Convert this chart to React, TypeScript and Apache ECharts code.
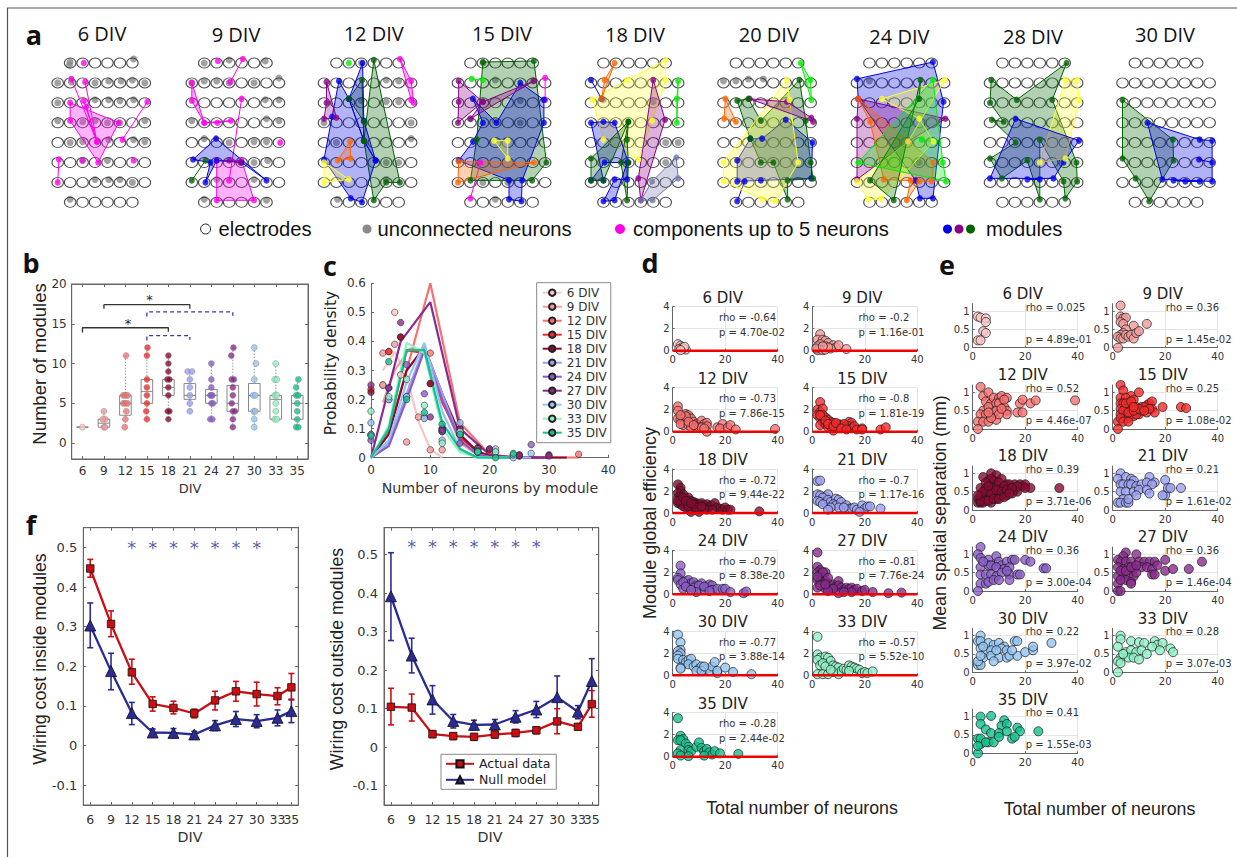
import React, { useEffect, useRef } from "react";
import * as echarts from "echarts";

const sans = "'Liberation Sans', Arial, sans-serif";
const dejavu = "'DejaVu Sans', sans-serif";
const open = "'Open Sans', sans-serif";

const divLabels = ["6", "9", "12", "15", "18", "21", "24", "27", "30", "33", "35"];
const divColors = ["#f9c4c4", "#f29a9a", "#f76f6f", "#f52a2a", "#8a0a32", "#9aa0f0", "#8b5cc8", "#8b2a8f", "#93c4f2", "#8ef0c4", "#12c28f"];
const NODE: Record<string, string> = { pink: "#ff00ee", blue: "#0000e6", purple: "#8b008b", dgreen: "#006400", lime: "#00ee00", orange: "#ff6600", yellow: "#ffff33", slate: "#7078a8" };

// ---------- panel a ----------
const netTitles = ["6 DIV", "9 DIV", "12 DIV", "15 DIV", "18 DIV", "20 DIV", "24 DIV", "28 DIV", "30 DIV"];
const gray6 = [[1,-0.05],[0.95,0.1],[6.1,-0.2],[0,1],[1.1,0.95],[3,1],[4.1,0.9],[5.1,0.9],[6,0.85],[7,1],[0,2],[3,1.85],[4.1,1.85],[5,1.9],[6.1,1.85],[0,2.9],[2,2.95],[3,2.9],[4,3],[5,3],[7,2.9],[1,4],[2,3.95],[4.1,3.85],[6.1,3.85],[7,3.95],[2,4.9],[4,4.9],[3,5.85],[4.1,5.85],[5,5.85],[6,6],[1,6.85]];
const gray9 = [[1,0],[3,-0.15],[5.9,-0.1],[0,1],[1,0.9],[2,0.9],[3,1],[5,1],[7,0.75],[5.9,1.85],[7,1.85],[0,2.9],[6,2.8],[7,2.9],[1,3.8],[3,4],[5,3.95],[6,3.95],[6.1,4.9],[5,5],[2,5.85],[5,5.85],[1,6.85],[6,6.9]];
const gray12 = [[3,0],[5,0.85],[6,0.9],[3,1.9],[5,1.95],[6,1.95],[0,3],[1,4],[7,3],[7,3.8],[6,5],[5,5],[5,5.85],[1.1,6.85]];
const gray15 = [[2,0],[3,0.85],[3,2.9],[1,2.8],[5,3],[3,6.85],[6,0.9],[5,1.9],[2,6],[4,6]];
const gray18 = [[5,1.95],[6,4],[7,4],[6,5],[1,1.85]];
const gray20 = [[0,0.9],[1,0.9],[2,0.8],[3.2,0.8]];
const gray24 = [[1,0.9],[5,5]];
const grayLists = [gray6, gray9, gray12, gray15, gray18, gray20, gray24, [], []];

const net6 = [
  { c: "pink", p: [[1,2],[4.9,3],[3.25,5],[1,2.9]] },
  { c: "pink", open: true, p: [[1.1,0.8],[3.15,3.95],[2.1,1.9]] },
  { c: "pink", open: true, p: [[2.2,0.95],[3.15,3.95],[2.3,2.2]] },
  { c: "pink", p: [[7.2,1.95],[5.2,3.85]] },
  { c: "pink", p: [[0.1,4.85],[0,6]] },
  { c: "pink", p: [[2.1,0]] }, { c: "pink", p: [[2,4.9]] }, { c: "pink", p: [[6.1,4.9]] },
];
const net9 = [
  { c: "pink", p: [[2,4.9],[4,4.9],[5,6.9],[2,6.9]] },
  { c: "pink", p: [[4.1,-0.2],[3.1,0.95]] }, { c: "pink", p: [[2.1,-0.1]] },
  { c: "pink", p: [[0,1],[0,1.9],[1,3]] }, { c: "pink", p: [[1,3],[2.05,3],[3.15,2.9]] },
  { c: "pink", p: [[4,1.8],[3,5.9]] }, { c: "pink", p: [[7.1,4]] },
  { c: "blue", p: [[1.95,3.8],[6,5.9],[4,5],[2,4.9],[1.1,6],[1.5,5],[0.1,4.85]] },
  { c: "dgreen", p: [[1.1,4.9],[0,5.9]] },
  { c: "purple", p: [[3,4.9],[3.9,5]] },
];
const net12 = [
  { c: "dgreen", p: [[4,-0.15],[6.1,6],[5,6],[4,6.9],[3.2,3.9]] },
  { c: "dgreen", p: [[3.05,0.85],[2,1.8],[3.2,2.95],[3.2,3.9]] },
  { c: "blue", p: [[1.2,0.9],[2,1.8],[3.2,3.9],[4.15,4.9],[3.05,7],[2.15,6.8],[0,4.85],[0.65,2.7]] },
  { c: "blue", p: [[3.1,0],[3.2,2.9],[4.15,4.9],[3.2,3.9],[2,1.8]] },
  { c: "lime", p: [[2,0]] },
  { c: "pink", p: [[6.1,-0.2],[7,0.9],[7.2,2],[7,1.85]] },
  { c: "purple", p: [[0.2,0.95],[0.2,2],[0,2.8],[1,2.75]] },
  { c: "orange", p: [[2.1,3.95],[2.15,4.8],[1.1,4.9]] },
  { c: "yellow", p: [[0,5],[2,5.85],[0,6]] },
];
const net15 = [
  { c: "dgreen", p: [[2,-0.05],[6.1,-0.1],[7.1,5],[5.95,5.9],[1,5.9],[1.5,3.85]] },
  { c: "blue", p: [[5,1],[6.9,1.85],[6.9,3],[5.15,5.9],[5.1,6.95],[4.1,6.85],[4.1,5.9],[0.05,4.9],[1.2,3.95],[2,3],[1.2,1.8],[3.1,3]] },
  { c: "lime", p: [[1.1,0.8],[2,0.85]] },
  { c: "purple", p: [[0.05,0.9],[2,1.95],[0,3],[0.05,1.95]] },
  { c: "purple", p: [[6.1,0.9],[2,1.95],[1,2.8]] },
  { c: "pink", p: [[7,0.75],[7,1.85]] },
  { c: "pink", p: [[1.8,5],[1,6.8]] },
  { c: "yellow", p: [[2.9,3.9],[4,3.9],[4,4.8]] },
  { c: "orange", p: [[0.05,4.95],[6.1,5],[0,6]] },
];
const net18 = [
  { c: "yellow", p: [[6,-0.15],[2.9,0.85],[0.1,1.85],[1,3.85],[3.8,4.85],[4.9,2.9],[6,0.85]] },
  { c: "orange", p: [[1.9,0],[1.1,0.85],[0.85,1.8]] },
  { c: "blue", p: [[0,0.85],[0.85,1.8]] },
  { c: "lime", p: [[7,0.9],[6.9,1.8],[6.9,3]] },
  { c: "purple", p: [[5,0.85],[5.95,2.85],[4,6.9],[3.8,5.8]] },
  { c: "slate", p: [[6.85,4.75],[7,5.8],[4.95,6.9],[4,6.9],[4.9,5.95]] },
  { c: "dgreen", p: [[3,2.95],[2.9,3.85],[3,5],[2.9,6.9],[2.4,5]] },
  { c: "blue", p: [[0,3],[1,2.95],[1.9,3],[3,5],[1.1,5],[0,5.9],[1,5.9]] },
  { c: "dgreen", p: [[0,4.8],[0,5.9],[1,5.9],[3,2.95]] },
  { c: "blue", p: [[1.9,5.85],[1,6.95],[1.9,6.9],[2.9,5],[2.9,5.85]] },
];
const net20 = [
  { c: "blue", p: [[5,2.85],[7.15,4],[7.05,5.8],[3,5.9],[1.1,5.95],[1.1,4.9],[2.15,3.8],[3.1,3.8]] },
  { c: "blue", p: [[1.1,6.95],[1.7,5.95]] },
  { c: "dgreen", p: [[6.1,0.85],[3,2.9],[2,1.8],[1.1,1.9],[2.15,3.8],[3,5],[4,5],[5.15,6.85],[5.15,5.9],[7.2,5.8],[7,5],[6.6,2.9]] },
  { c: "yellow", p: [[5.1,0.85],[0,5],[0,5.95],[3.1,6.85],[4.2,6.95],[6,5],[5.3,1.85]] },
  { c: "lime", p: [[6.2,0],[7,0.85],[7.05,1.85]] },
  { c: "purple", p: [[2.1,1.8],[5.1,1.95],[7.05,2.75],[7.2,2.95]] },
  { c: "orange", p: [[0.15,1.8],[0.05,2.8],[1,2.95]] },
];
const net24 = [
  { c: "blue", p: [[6.1,-0.05],[0,0.8],[0.1,1.8],[4.7,5.9],[5.05,6.8],[6.1,6.8],[6.95,1.95]] },
  { c: "purple", p: [[0.1,1.8],[7.1,2.8],[4.1,3.95],[0,5.85],[0,2.8]] },
  { c: "orange", p: [[0.1,1.8],[6.15,5],[6,5.95],[2.15,5.85],[1.05,2.95]] },
  { c: "orange", p: [[4,6.9],[4.3,5.9],[5,5.95]] },
  { c: "yellow", p: [[7.05,0.85],[2,1.8],[5,2.8],[6.15,3.95],[1.95,6.85],[0.9,6.85],[0,5.95],[4.1,3.95]] },
  { c: "dgreen", p: [[5.1,0.85],[2.95,6.9],[1.05,5.9],[5,1.8]] },
  { c: "lime", p: [[6.1,0.85],[6.9,5],[7.15,5.95],[0.1,5]] },
  { c: "lime", p: [[5.2,3.85],[6.2,3.95]] },
];
const net28 = [
  { c: "dgreen", p: [[0.1,0.85],[2.15,1.85],[6.15,0],[5,1.85],[6.95,5],[7,5.95],[6.05,6.8],[5.9,5.95],[4,3.85],[4,6.85],[3,4.9],[0.95,5.8],[0,4.8],[2.05,4],[0.15,2.85],[1.1,2.95],[0,2]] },
  { c: "yellow", p: [[6.05,0.85],[7,0.85],[7.15,1.85],[6.05,4.8],[4,5]] },
  { c: "blue", p: [[2.05,2.8],[7.15,3.9],[5.9,5],[5.1,5.8],[0,5.8]] },
  { c: "blue", p: [[3,5.85],[4,5.85]] },
];
const net30 = [
  { c: "dgreen", p: [[0,1.85],[4.05,3.85],[4.1,4.9],[2.15,6.95],[1.05,5.8],[0,4.8]] },
  { c: "blue", p: [[2,3],[6.2,3.85],[7.2,3.9],[7.2,5.95],[3.2,5.85]] },
  { c: "blue", p: [[4.1,5.9],[5.05,5.95],[6.2,5.95]] },
  { c: "blue", p: [[6.15,4.85],[7.2,5]] },
];
const nets = [net6, net9, net12, net15, net18, net20, net24, net28, net30];

const netLefts = [57.7, 191.8, 324, 458, 591, 723.5, 857, 990, 1122.5];
const netTitleX = [102, 236, 373.7, 502, 635, 768.8, 899.4, 1033, 1165];
const netTitleY = [33, 34, 33, 33, 34, 34, 36, 36, 34];

function electrodes() {
  const out: number[][] = [];
  for (let r = 0; r < 8; r++) for (let c = 0; c < 8; c++) {
    if ((r === 0 || r === 7) && (c === 0 || c === 7)) continue;
    out.push([c, r]);
  }
  return out;
}

// ---------- panel b ----------
const bStats = [[2,2,2,2,2],[2,2,2.5,3,4],[2,3.5,5,6,11],[3,5,6.5,8,12],[3,6,7,8,11],[4,5.5,6,7.5,9],[3,5,6,6.75,10],[2,4,5,7.25,12],[2,4,6,7.5,12],[3,3,5.5,6,10],[2,3,5,6,8]];
const bDots = [
  [[0,2]],
  [[0,2],[0.06,3],[-0.06,3],[0,4],[0.05,2]],
  [[-0.03,2],[0,3],[0.04,4],[-0.1,5],[0,5],[0.1,5],[-0.1,6],[0,6],[0.1,6],[0.03,11]],
  [[0,3],[-0.03,4],[0,5],[0,6],[0,7],[0,8],[0,11],[0.03,12]],
  [[0,3],[-0.03,4],[0.05,4],[0,6],[0,7],[-0.05,8],[0.05,8],[0,9],[0,10],[0,11]],
  [[0,4],[0,5],[0,6],[0,7],[0,8],[-0.1,9],[0.1,9]],
  [[-0.05,3],[0.05,3],[0,5],[0.08,5],[-0.05,6],[0,6],[0.05,6],[0,7],[0,8],[0,10]],
  [[0,2],[0,3],[0,4],[0.1,4],[-0.05,5],[0,6],[0,7],[-0.05,8],[0.05,8],[-0.07,11],[0.03,12]],
  [[0,2],[0,3],[-0.03,4],[0.05,4],[-0.05,6],[0.05,6],[0,8],[0.08,10],[0,12]],
  [[-0.05,3],[0.05,3],[0,4],[0,5],[-0.05,6],[0.05,6],[-0.05,8],[0.05,8],[0,10]],
  [[-0.05,2],[0.05,2],[0,3],[0,4],[0,5],[-0.05,6],[0.05,6],[-0.05,7],[0.05,8]],
];

// ---------- panel c ----------
const cSeriesNames = divLabels.map((d) => d + " DIV");
const cLines = [
  [[2,.30],[4,.365],[6,.28],[8,.125],[10,.03],[12,0]],
  [[2,.19],[4,.30],[6.5,.375],[9,.37],[12,.2],[15,.05],[18,.01]],
  [[0,0],[3,.09],[6,.3],[10,.6],[15,.12],[20,.01],[25,0],[35,0]],
  [[0,0],[3,.1],[6,.37],[9,.36],[12,.19],[15,.07],[18,.02],[21,0],[28,0]],
  [[0,0],[3,.08],[6,.3],[9,.38],[12,.22],[15,.08],[18,.02],[21,0],[33,0]],
  [[0,0],[3,.05],[6,.22],[9,.38],[12,.22],[15,.06],[18,.01],[21,0],[26,0]],
  [[0,0],[3,.04],[6,.2],[9,.37],[12,.2],[15,.06],[18,.01],[21,0],[28,0]],
  [[0,0],[5,.4],[10,.535],[15,.1],[20,.01],[25,0],[30,0]],
  [[0,0],[3,.06],[6,.26],[9,.395],[12,.16],[15,.03],[18,0],[27,0]],
  [[0,0],[3,.11],[6,.395],[9,.36],[12,.1],[15,.02],[18,0],[23,0]],
  [[0,0],[3,.1],[6,.37],[9,.37],[12,.12],[15,.03],[18,0],[24,0]],
];
const cDots = [
  [[4,.5],[5,.285],[2,.25]],
  [[2,.36],[2,.25],[4,.39],[6,.054],[8,.14],[10,.027],[12,.027]],
  [[3,.365],[10,.36],[12,.1],[15,.08],[35,.012],[18,.03],[0,.08]],
  [[0,.235],[3,.365],[5,.415],[10,.255],[12,.09],[15,.08],[18,.03],[20,.02],[25,.005]],
  [[0,.225],[5,.415],[10,.255],[12,.1],[15,.1],[18,.035],[20,.03],[25,.01],[30,.01]],
  [[0,.08],[3,.2],[6,.21],[9,.14],[12,.09],[15,.08],[18,.03],[21,.02]],
  [[0,.06],[3,.24],[6,.32],[9,.22],[12,.09],[15,.05],[18,.02],[24,.01],[27,.045]],
  [[0,.25],[3,.24],[5,.465],[10,.14],[12,.095],[15,.1],[18,.025],[20,.03],[25,.008],[30,.006]],
  [[0,.12],[3,.2],[6,.21],[9,.135],[12,.06],[15,.12],[18,.02],[21,.03],[24,0],[27,.015]],
  [[0,.16],[3,.21],[6,.27],[9,.18],[12,.05],[15,.09],[18,.02],[21,.02],[24,.01]],
  [[0,.075],[3,.33],[6,.2],[9,.155],[12,.115],[15,.08],[18,.02],[21,0],[24,.015]],
];

// ---------- panel f ----------
const fDays = [6,9,12,15,18,21,24,27,30,33,35];
const fLabelDays = [6,9,12,15,18,21,24,27,30,33];
const fLastDay = [35];
const fYTicks = [-0.1,0,0.1,0.2,0.3,0.4,0.5];
const inActual = [.447,.307,.185,.105,.095,.081,.114,.137,.130,.125,.147];
const inActualLo = [.425,.275,.155,.087,.08,.07,.09,.112,.10,.103,.115];
const inActualHi = [.47,.34,.218,.123,.112,.092,.137,.162,.16,.146,.182];
const inNull = [.303,.188,.082,.033,.032,.028,.051,.067,.062,.07,.087];
const inNullLo = [.247,.141,.053,.025,.02,.018,.038,.048,.045,.05,.058];
const inNullHi = [.36,.233,.109,.042,.043,.036,.063,.086,.078,.09,.117];
const outActual = [.105,.103,.034,.029,.027,.033,.037,.044,.067,.053,.112];
const outActualLo = [.058,.068,.025,.02,.018,.024,.028,.035,.035,.045,.078];
const outActualHi = [.153,.138,.043,.037,.035,.042,.046,.053,.1,.061,.147];
const outNull = [.392,.238,.124,.068,.058,.059,.079,.098,.13,.092,.172];
const outNullLo = [.277,.193,.086,.05,.046,.047,.063,.077,.072,.074,.113];
const outNullHi = [.505,.283,.16,.085,.07,.072,.095,.119,.185,.108,.23];
const inStars = [12,15,18,21,24,27,30];
const outStars = [9,12,15,18,21,24,27];

// ---------- panel d ----------
const dRho = ["-0.64","-0.2","-0.73","-0.8","-0.72","-0.7","-0.79","-0.81","-0.77","-0.57","-0.28"];
const dP = ["4.70e-02","1.16e-01","7.86e-15","1.81e-19","9.44e-22","1.17e-16","8.38e-20","7.76e-24","3.88e-14","5.52e-10","2.44e-02"];
const dPoints = [
  [[2,.6],[3,.45],[3.5,.3],[2.5,.15],[5,.1],[4,.2],[4.5,.35],[3,.05]],
  [[3,1.5],[2,1],[4,1],[5,.9],[3,.6],[2,.4],[6,.7],[5,.4],[8,.5],[9,.3],[10,.5],[7,.2],[13,.15],[3,.1],[2,.05],[4,.05],[5,.1],[6,.3],[1.5,.2],[4,.4]],
  [[2,2.3],[2,1.9],[5,1.6],[6,1.5],[2,1.2],[3,1.1],[4,1.2],[5,1.0],[7,1.2],[8,.9],[9,.7],[10,.6],[11,1],[12,.7],[13,.8],[13,.5],[13,0],[4,.6],[3,.7],[6,.6],[7,.4],[9,.4],[10,.4],[11,.4],[12,.3],[17,.4],[19,.7],[18,.3],[21,.4],[22,.6],[24,.2],[39,.25],[5,1.4],[3,1.5],[6,.9],[8,.6]],
  [[3,2.7],[2,2],[3,1.8],[4,2.1],[2,1.5],[3,1.2],[5,1.3],[6,1.1],[4,.9],[3,.6],[5,.7],[7,.9],[8,.8],[9,.5],[10,.7],[11,.6],[12,.4],[13,.5],[14,.9],[15,.8],[14,.5],[15,.3],[16,.5],[17,.2],[19,.3],[19,.2],[26,.2],[28,.4],[8,.1],[6,.4],[7,.5],[10,.3],[12,.7],[4,1.5],[3,1.5],[5,1],[6,.7],[8,.5],[9,.8],[11,.3],[13,.2]],
  [[2,2.6],[3,2.3],[3,2],[2,1.8],[4,1.7],[2,1.4],[3,1.5],[5,1.3],[6,1.4],[4,1.1],[2,.9],[3,.8],[5,.8],[6,1.0],[7,1.1],[8,1],[9,.9],[10,.8],[11,.9],[12,.7],[13,.8],[14,.6],[15,.7],[16,.9],[17,.5],[18,.4],[19,.3],[20,.5],[21,.3],[22,.3],[33,.15],[7,.6],[8,.5],[10,.5],[10,.1],[7,.1],[13,.3],[15,.3],[5,.5],[4,.6],[12,.4],[6,.6],[8,.8],[9,.5],[11,.6],[3,1.2],[2,1.1],[4,1.4],[5,1.1],[7,.9]],
  [[2,2.9],[3,2.95],[2,1.7],[3,1.6],[5,1.5],[6,1.7],[4,1.4],[2,1.1],[3,1],[5,.9],[6,1.2],[7,1],[9,1.3],[10,1.2],[8,.8],[9,.7],[11,1],[10,.5],[13,.7],[14,.4],[15,.4],[16,.5],[17,.3],[19,.7],[20,.4],[21,.6],[22,.6],[26,.4],[7,.5],[4,.8],[12,.5],[18,.1],[6,.3]],
  [[3,2.6],[3,1.9],[2,1.5],[2,1.3],[3,.9],[4,.5],[5,1.2],[6,1.3],[7,1],[6,.6],[8,1.1],[9,.8],[10,.5],[11,1],[12,.4],[13,.7],[14,.9],[15,.8],[15,.4],[17,.5],[19,.5],[20,.5],[22,.2],[27,.1],[28,.25],[4,1.1],[5,.7],[8,.6],[10,.8],[12,.7],[14,.3],[9,.2],[7,.4]],
  [[2,3.8],[2,2.5],[3,2.2],[2,2],[5,2],[3,1.8],[4,1.5],[2,1.3],[3,1.2],[5,1.2],[4,.9],[2,.6],[6,1],[7,.8],[8,.9],[9,.7],[10,1.2],[10,.8],[11,.6],[12,.4],[13,.6],[14,.5],[15,.6],[16,.4],[17,.5],[19,.3],[20,.4],[23,.2],[29,.1],[34,.15],[10,.1],[7,.4],[5,.5],[8,.5],[6,.3],[15,.2],[12,.2],[3,.8],[4,2],[2,1.6],[6,1.5],[5,.9]],
  [[2,3.7],[3,3],[3,2.3],[2,2.2],[3,2],[2,1.8],[2,1.5],[4,1.4],[5,1.2],[6,1.4],[7,1.5],[6,1],[3,.7],[3,.6],[8,.8],[9,1],[10,.6],[11,.8],[12,.5],[13,.6],[14,.4],[15,.8],[16,1.2],[17,.2],[17,.4],[20,.7],[23,.3],[30,.1],[9,.4],[11,.4],[12,.8]],
  [[2,3.5],[2,1.9],[3,1.6],[2,1.4],[5,1.7],[6,1.6],[7,1.3],[3,.9],[4,1.1],[5,.8],[8,.9],[9,.8],[10,.7],[10,.1],[11,.4],[12,.6],[13,.5],[14,.9],[15,.8],[16,.7],[17,.6],[18,.5],[19,.2],[20,.3],[21,.2],[23,.35],[2,.1],[4,.1],[6,.1],[8,.3],[7,.5],[14,.4]],
  [[2,3.5],[3,1.9],[2,1.5],[4,1.6],[3,1.5],[5,1.2],[6,.9],[3,.6],[2,.3],[6,.6],[7,.5],[9,.9],[10,1.3],[11,.8],[12,.5],[13,.7],[14,.4],[15,.2],[16,.5],[18,.3],[25,.25],[3,.1],[6,.05],[12,.1]],
];

// ---------- panel e ----------
const eRho = ["0.025","0.36","0.52","0.25","0.39","0.21","0.36","0.36","0.22","0.28","0.41"];
const eP = ["4.89e-01","1.45e-02","4.46e-07","1.08e-02","3.71e-06","1.61e-02","3.00e-04","1.46e-04","3.97e-02","3.07e-03","1.55e-03"];
const ePoints = [
  [[2,.85],[3,.82],[5,.8],[5,.7],[4,.45],[5,.4],[2,.2],[3,.2]],
  [[3,1.15],[3,.85],[4,.8],[5,.82],[3,.7],[4,.65],[8,.6],[13,.65],[5,.5],[4,.4],[3,.35],[2,.3],[3,.25],[4,.25],[5,.35],[6,.3],[7,.35],[8,.25],[9,.4],[10,.45],[2,0]],
  [[3,1.15],[4,.9],[6,1],[5,.75],[7,.7],[4,.5],[3,.4],[5,.4],[6,.6],[2,.2],[4,.2],[6,.2],[9,.25],[2,0],[8,.85],[10,.85],[11,.9],[13,.85],[9,.7],[10,.7],[12,.6],[13,.5],[13,.4],[8,.45],[9,.5],[10,.4],[7,.3],[17,.45],[19,.45],[18,.7],[19,.8],[22,.7],[24,.78],[39,.78],[6,.45],[12,.8],[11,.55]],
  [[3,1.2],[4,1.05],[7,.9],[10,1.0],[3,.85],[5,.85],[8,.8],[3,.7],[4,.7],[6,.7],[3,.55],[5,.55],[7,.6],[9,.6],[11,.6],[13,.65],[14,.7],[15,.75],[15,.55],[16,.45],[13,.45],[10,.4],[2,.2],[3,.4],[4,.3],[5,.35],[6,.3],[7,.4],[8,.35],[9,.4],[11,.5],[19,.6],[26,.6],[28,.57],[2,0],[12,.6],[14,.55],[4,.5],[6,.45],[8,.5],[10,.55],[5,.7],[7,.75],[3,.3],[4,.2],[6,.2],[8,.6],[12,.5]],
  [[4,.9],[7,1],[9,.95],[6,.8],[8,.8],[11,.85],[13,.7],[16,.7],[18,.7],[19,.65],[20,.7],[22,.6],[33,.6],[3,.6],[5,.6],[7,.65],[9,.7],[11,.6],[12,.5],[14,.55],[16,.55],[17,.5],[20,.6],[2,.3],[3,.4],[4,.3],[5,.4],[6,.3],[7,.2],[8,.4],[9,.4],[10,.4],[11,.4],[12,.45],[13,.4],[15,.45],[2,.2],[3,.2],[4,.2],[5,.25],[8,.6],[6,.5],[4,.5],[10,.55],[3,.25],[9,.3],[14,.7],[17,.65],[7,.85],[10,.75],[12,.65],[5,.75],[7,.45],[9,.55],[11,.5],[13,.55],[15,.6],[6,.25],[8,.3],[10,.3],[12,.35],[14,.45],[6,.65],[2,.4]],
  [[3,1],[2,.85],[5,.9],[7,.85],[8,.8],[14,.9],[16,.75],[20,.82],[3,.7],[4,.7],[6,.7],[7,.7],[9,.65],[11,.7],[13,.75],[15,.7],[20,.4],[21,.6],[22,.6],[19,.4],[26,.6],[3,.5],[5,.5],[8,.5],[10,.55],[13,.55],[14,.45],[4,.3],[2,.2],[3,.2],[5,.2],[6,.2],[6,.3],[9,.4]],
  [[3,1.2],[2,1],[3,.9],[6,.85],[9,.95],[8,.7],[10,.8],[11,.7],[13,.8],[15,.85],[16,.85],[20,.85],[22,.8],[27,.62],[28,.62],[3,.65],[6,.7],[7,.7],[9,.65],[12,.6],[14,.65],[3,.45],[5,.45],[7,.45],[9,.4],[11,.5],[14,.45],[17,.45],[18,.45],[3,.2],[5,.2],[6,.25],[8,.3],[10,.3],[14,.3],[2,0],[13,.55],[4,.8]],
  [[5,1.05],[4,.95],[9,1],[2,.85],[3,.8],[5,.8],[7,.8],[10,.8],[12,.8],[14,.8],[16,.8],[20,.85],[34,.8],[2,.65],[4,.6],[6,.65],[8,.6],[11,.65],[13,.65],[15,.6],[17,.7],[20,.55],[23,.6],[29,.6],[2,.4],[4,.45],[6,.45],[8,.4],[15,.45],[16,.45],[2,.2],[5,.3],[7,.25],[7,.2],[2,0],[3,0],[9,.5],[3,.55],[5,.55],[7,.65],[9,.7],[3,.3]],
  [[3,1],[2,.85],[3,.85],[6,.8],[8,.75],[10,.8],[12,.7],[16,.85],[17,.85],[3,.65],[5,.55],[7,.6],[11,.65],[13,.6],[4,.4],[7,.45],[10,.4],[13,.4],[14,.45],[17,.45],[20,.55],[23,.6],[23,.7],[30,.8],[2,.2],[3,.2],[8,.3],[2,.3],[15,.6],[3,.45],[9,.6],[4,.7]],
  [[3,1],[3,.9],[7,.85],[10,.82],[12,.8],[16,.85],[17,.75],[19,.8],[15,.7],[18,.6],[22,.65],[23,.55],[2,.7],[5,.55],[7,.6],[9,.55],[11,.6],[13,.5],[3,.4],[6,.4],[8,.4],[10,.35],[2,.3],[3,.25],[2,0],[4,.5]],
  [[3,1],[7,1.02],[3,.8],[12,.9],[11,.75],[13,.8],[5,.65],[7,.55],[10,.55],[13,.6],[17,.7],[18,.6],[25,.6],[15,.4],[16,.45],[2,.4],[3,.25],[3,.4],[6,.3],[5,.3],[8,.3],[10,.45],[2,0],[2,.2]],
];

// ---------- layout helpers ----------
const dCols = [672.7, 812.3];
const dRows = [350.7, 431.7, 513, 594.3, 675.3, 756.7];
const eCols = [972.7, 1112.7];
const eRows = [347.7, 429, 510, 591, 672.3, 753.3];

function buildOption() {
  const grid: any[] = [], xAxis: any[] = [], yAxis: any[] = [], series: any[] = [], g: any[] = [];
  const txt = (x: number, y: number, text: string, fontSize: number, fontFamily: string, opt: any = {}) => {
    g.push({ type: "text", x, y, rotation: opt.rotation || 0, silent: true, z: 50,
      style: { text, fontSize, fontFamily, fontWeight: opt.weight || "normal", fill: opt.fill || "#222", align: opt.align || "center", verticalAlign: "middle" } });
  };
  const addGrid = (left: number, top: number, right: number, bottom: number, x: any, y: any, gridOpt: any = {}) => {
    const gi = grid.length;
    grid.push({ left, top, width: right - left, height: bottom - top, show: false, containLabel: false, ...gridOpt });
    const xi = xAxis.length, yi = yAxis.length;
    xAxis.push({ gridIndex: gi, type: "value", ...x });
    yAxis.push({ gridIndex: gi, type: "value", ...y });
    return { xi, yi, gi };
  };
  const axisCol = "#666";
  const tick = (len = 3) => ({ show: true, inside: true, length: len, lineStyle: { color: axisCol, width: 1 } });
  const line = { show: true, onZero: false, lineStyle: { color: axisCol, width: 1 } };
  // mirrored ticks on the top and right of a boxed MATLAB-style axes
  const mirror = (gi: number, xmin: number, xmax: number, xvals: number[], ymin: number, ymax: number, yvals: number[]) => {
    xAxis.push({ gridIndex: gi, type: "value", position: "top", min: xmin, max: xmax, axisLine: line, splitLine: { show: false },
      axisTick: { ...tick(), customValues: xvals }, axisLabel: { show: false } });
    yAxis.push({ gridIndex: gi, type: "value", position: "right", min: ymin, max: ymax, axisLine: line, splitLine: { show: false },
      axisTick: { ...tick(), customValues: yvals }, axisLabel: { show: false } });
  };

  // frame
  g.push({ type: "polyline", silent: true, z: 0, shape: { points: [[7.5,857],[7.5,8],[1237,8]] }, style: { stroke: "#555", lineWidth: 1.2, fill: "none" } });

  // letters
  [["a",34,34],["b",31,262],["c",330,265],["d",650,262],["e",947,264],["f",31,524]].forEach(([t,x,y]: any) =>
    txt(x, y, t, 27, open, { weight: "bold", fill: "#111" }));

  // ---- a ----
  const elec = electrodes();
  nets.forEach((mods: any[], i) => {
    const L = netLefts[i], sx = 12.45, sy = 19.9;
    const { xi, yi } = addGrid(L - 0.5 * sx, 63 - sy, L + 7.5 * sx, 202.3 + sy,
      { show: false, min: -0.5, max: 7.5 },
      { show: false, min: -1, max: 8, inverse: true });
    const base = { xAxisIndex: xi, yAxisIndex: yi, silent: true, clip: false };
    series.push({ ...base, type: "scatter", data: grayLists[i], symbolSize: [7, 7], itemStyle: { color: "#8a8a8a" }, z: 2 });
    series.push({ ...base, type: "scatter", data: elec, symbolSize: [11.5, 10], itemStyle: { color: "transparent", borderColor: "#222", borderWidth: 1 }, z: 3 });
    series.push({
      ...base, type: "custom", z: 4, data: mods.map((_, k) => [k, k]),
      renderItem: (_p: any, api: any) => {
        const m = mods[api.value(0)];
        const pts = m.p.map((q: number[]) => api.coord(q));
        const col = NODE[m.c];
        if (pts.length < 2) return null;
        if (pts.length === 2 || m.open) return { type: "polyline", shape: { points: pts }, style: { stroke: col, lineWidth: 1, fill: "none" } };
        return { type: "polygon", shape: { points: pts }, style: { fill: col, opacity: 1, stroke: col, lineWidth: 1, fillOpacity: 0.3 } };
      },
    });
    ["pink","blue","purple","dgreen","lime","orange","yellow","slate"].forEach((c) => {
      const d = mods.filter((m) => m.c === c).flatMap((m) => m.p);
      if (d.length) series.push({ ...base, type: "scatter", data: d, symbolSize: [6, 6.5], itemStyle: { color: NODE[c] }, z: 5 });
    });
    txt(netTitleX[i], netTitleY[i], netTitles[i], 20, open, { fill: "#111" });
  });
  // legend row of a
  g.push({ type: "circle", silent: true, shape: { cx: 205.6, cy: 229, r: 5 }, style: { fill: "#fff", stroke: "#222", lineWidth: 1 } });
  g.push({ type: "circle", silent: true, shape: { cx: 367, cy: 229, r: 4.5 }, style: { fill: "#8a8a8a" } });
  g.push({ type: "circle", silent: true, shape: { cx: 620, cy: 229, r: 5 }, style: { fill: NODE.pink } });
  [[947.5, "blue"], [959, "purple"], [970.5, "dgreen"]].forEach(([x, c]: any) =>
    g.push({ type: "circle", silent: true, shape: { cx: x, cy: 229, r: 4.5 }, style: { fill: NODE[c] } }));
  txt(218.5, 229, "electrodes", 20.2, sans, { align: "left", fill: "#111" });
  txt(377.5, 229, "unconnected neurons", 20.2, sans, { align: "left", fill: "#111" });
  txt(633, 229, "components up to 5 neurons", 20.2, sans, { align: "left", fill: "#111" });
  txt(986, 229, "modules", 20.2, sans, { align: "left", fill: "#111" });

  // ---- b ----
  {
    const xv = divLabels.map((_, i) => i + 1), yv = [0,5,10,15,20];
    const { xi, yi, gi } = addGrid(71.7, 284, 308, 459,
      { min: 0.5, max: 11.5, axisLine: line, splitLine: { show: false },
        axisTick: { ...tick(), customValues: xv },
        axisLabel: { customValues: xv, formatter: (v: number) => divLabels[v - 1], fontSize: 12, fontFamily: dejavu, color: "#333", margin: 6, showMinLabel: true, showMaxLabel: true } },
      { min: -2, max: 20, axisLine: line, splitLine: { show: false }, axisTick: { ...tick(), customValues: yv },
        axisLabel: { customValues: yv, fontSize: 12, fontFamily: dejavu, color: "#333", margin: 5, showMinLabel: true, showMaxLabel: true } },
      { show: true, borderColor: axisCol, borderWidth: 1, backgroundColor: "transparent" });
    mirror(gi, 0.5, 11.5, xv, -2, 20, yv);
    const base = { xAxisIndex: xi, yAxisIndex: yi, silent: true };
    series.push({
      ...base, type: "custom", z: 3, data: bStats.map((s, i) => [i + 1, ...s]),
      renderItem: (_p: any, api: any) => {
        const x = api.value(0), w = 0.27;
        const [mn, q1, md, q3, mx] = [1, 2, 3, 4, 5].map((k) => api.value(k));
        const P = (a: number, b: number) => api.coord([a, b]);
        const ln = (a: number[], b: number[], st: any) => ({ type: "line", shape: { x1: a[0], y1: a[1], x2: b[0], y2: b[1] }, style: st });
        const solid = { stroke: "#888", lineWidth: 1 };
        const dot = { stroke: "#999", lineWidth: 1, lineDash: [1.5, 1.5] };
        const tl = P(x - w, q3), br = P(x + w, q1);
        return { type: "group", children: [
          ln(P(x, mx), P(x, q3), dot), ln(P(x, q1), P(x, mn), dot),
          { type: "rect", shape: { x: tl[0], y: tl[1], width: br[0] - tl[0], height: br[1] - tl[1] }, style: { fill: "none", stroke: "#888", lineWidth: 1 } },
          ln(P(x - w, md), P(x + w, md), solid),
        ] };
      },
    });
    bDots.forEach((d, i) => series.push({ ...base, type: "scatter", z: 4, symbolSize: 6,
      data: d.map(([o, v]) => [i + 1 + o, v]), itemStyle: { color: divColors[i], opacity: 0.8, borderColor: "#777", borderWidth: 0.5 } }));
    const brLine = (pts: number[][], color: string, dash: any) => series.push({ ...base, type: "line", z: 5, showSymbol: false, data: pts, lineStyle: { color, width: 1.3, type: dash } });
    brLine([[2,16.9],[2,17.4],[6,17.4],[6,16.9]], "#333", "solid");
    brLine([[1,13.9],[1,14.5],[5,14.5],[5,14]], "#333", "solid");
    brLine([[4,15.9],[4,16.5],[8,16.5],[8,16]], "#3a3aa8", [4, 3]);
    brLine([[4,12.9],[4,13.5],[6,13.5],[6,13]], "#3a3aa8", [4, 3]);
    txt(149.5, 299.5, "*", 13, dejavu);
    txt(128, 323, "*", 13, dejavu);
    txt(39, 364, "Number of modules", 18.5, sans, { rotation: Math.PI / 2, fill: "#222" });
    txt(190, 488, "DIV", 13, dejavu, { fill: "#333" });
  }

  // ---- c ----
  {
    const { xi, yi } = addGrid(371, 283.3, 608.3, 457.7,
      { min: 0, max: 40, interval: 10, axisLine: line, splitLine: { show: false }, axisTick: tick(),
        axisLabel: { fontSize: 12, fontFamily: dejavu, color: "#333", margin: 6 } },
      { min: 0, max: 0.6, interval: 0.1, axisLine: line, splitLine: { show: false }, axisTick: tick(),
        axisLabel: { fontSize: 12, fontFamily: dejavu, color: "#333", margin: 5, formatter: (v: number) => (v === 0 ? "0" : String(+v.toFixed(1))) } });
    const base = { xAxisIndex: xi, yAxisIndex: yi, silent: true };
    cLines.forEach((d, i) => series.push({ ...base, name: cSeriesNames[i], type: "line", z: 3, showSymbol: false, symbol: "circle", symbolSize: 7, data: d,
      lineStyle: { color: divColors[i], width: 2.2 }, itemStyle: { color: divColors[i], borderColor: "#222", borderWidth: 1 } }));
    cDots.forEach((d, i) => series.push({ ...base, type: "scatter", z: 4, symbolSize: 6.5, data: d,
      itemStyle: { color: divColors[i], borderColor: "#222", borderWidth: 0.7 } }));
    txt(331, 363, "Probability density", 15.6, dejavu, { rotation: Math.PI / 2 });
    txt(490, 487.5, "Number of neurons by module", 14.2, dejavu, { fill: "#333" });
  }

  // ---- f ----
  const fPanel = (left: number, right: number, yTop: number, actual: number[], aLo: number[], aHi: number[], nul: number[], nLo: number[], nHi: number[], stars: number[], starY: number) => {
    const labelStyle = { fontSize: 12.5, fontFamily: dejavu, color: "#333", margin: 8, showMinLabel: true, showMaxLabel: true };
    const { xi, yi, gi } = addGrid(left, 527.7, right, 805,
      { min: 5, max: 36, axisLine: line, splitLine: { show: false },
        axisTick: { ...tick(), customValues: fDays },
        axisLabel: { ...labelStyle, customValues: fLabelDays } },
      { min: -0.15, max: yTop, axisLine: line, splitLine: { show: false },
        axisTick: { ...tick(), customValues: fYTicks },
        axisLabel: { customValues: fYTicks, fontSize: 13, fontFamily: dejavu, color: "#333", margin: 6, showMinLabel: true, showMaxLabel: true, formatter: (v: number) => (v === 0 ? "0" : String(+v.toFixed(1))) } },
      { show: true, borderColor: axisCol, borderWidth: 1, backgroundColor: "transparent" });
    mirror(gi, 5, 36, fDays, -0.15, yTop, fYTicks);
    // the last tick's label overlaps "33" in the reference: it has its own axis, so it is not hidden
    xAxis.push({ gridIndex: gi, type: "value", position: "bottom", min: 5, max: 36, axisLine: { show: false }, axisTick: { show: false }, splitLine: { show: false },
      axisLabel: { ...labelStyle, customValues: fLastDay } });
    const base = { xAxisIndex: xi, yAxisIndex: yi, silent: true };
    const err = (lo: number[], hi: number[], color: string, z: number) => series.push({
      ...base, type: "custom", z, data: fDays.map((d, i) => [d, lo[i], hi[i]]),
      renderItem: (_p: any, api: any) => {
        const x = api.value(0);
        const a = api.coord([x, api.value(1)]), b = api.coord([x, api.value(2)]);
        const st = { stroke: color, lineWidth: 1.6 };
        const l = (x1: number, y1: number, x2: number, y2: number) => ({ type: "line", shape: { x1, y1, x2, y2 }, style: st });
        return { type: "group", children: [l(a[0], a[1], b[0], b[1]), l(a[0] - 3, a[1], a[0] + 3, a[1]), l(b[0] - 3, b[1], b[0] + 3, b[1])] };
      },
    });
    err(nLo, nHi, "#2b2b96", 3);
    err(aLo, aHi, "#c90f14", 4);
    series.push({ ...base, name: "Null model", type: "line", z: 5, data: fDays.map((d, i) => [d, nul[i]]), symbol: "triangle", symbolSize: 11,
      lineStyle: { color: "#2b2b96", width: 2.3 }, itemStyle: { color: "#2b2b96", borderColor: "#111", borderWidth: 0.8 } });
    series.push({ ...base, name: "Actual data", type: "line", z: 6, data: fDays.map((d, i) => [d, actual[i]]), symbol: "rect", symbolSize: 7.5,
      lineStyle: { color: "#c90f14", width: 2.3 }, itemStyle: { color: "#c90f14", borderColor: "#111", borderWidth: 0.8 } });
    series.push({ ...base, type: "scatter", z: 7, symbolSize: 0, data: stars.map((s) => [s, starY]),
      label: { show: true, position: "inside", formatter: "*", fontSize: 18, fontFamily: dejavu, color: "#2f2f9f", offset: [0, 2] } });
  };
  fPanel(83.3, 298.3, 0.55, inActual, inActualLo, inActualHi, inNull, inNullLo, inNullHi, inStars, 0.505);
  fPanel(384, 598.7, 0.57, outActual, outActualLo, outActualHi, outNull, outNullLo, outNullHi, outStars, 0.527);
  txt(40, 659, "Wiring cost inside modules", 17.8, sans, { rotation: Math.PI / 2 });
  txt(337, 659, "Wiring cost outside modules", 17.8, sans, { rotation: Math.PI / 2 });
  txt(190, 836.5, "DIV", 14.3, dejavu, { fill: "#333" });
  txt(490, 836.5, "DIV", 14.3, dejavu, { fill: "#333" });

  // ---- d, e ----
  const small = (panel: "d" | "e", i: number) => {
    const col = i % 2, row = Math.floor(i / 2);
    const left = (panel === "d" ? dCols : eCols)[col];
    const y0 = (panel === "d" ? dRows : eRows)[row];
    const top = y0 - 44;
    const isD = panel === "d";
    const split = { show: true, lineStyle: { color: "#e4e4e4", width: 1 } };
    const lab = { fontSize: 10, fontFamily: dejavu, color: "#333", margin: 3 };
    const { xi, yi } = addGrid(left, top, left + 105, y0,
      { min: 0, max: 40, interval: 20, axisLine: line, splitLine: split, axisTick: tick(2), axisLabel: { ...lab, margin: 4 } },
      isD
        ? { min: 0, max: 4, interval: 2, axisLine: line, splitLine: split, axisTick: tick(2), axisLabel: lab }
        : { min: 0, max: 1.2, axisLine: line, splitLine: split,
            axisTick: { ...tick(2), customValues: [0, 0.5, 1] },
            axisLabel: { ...lab, customValues: [0, 0.5, 1] } });
    const base = { xAxisIndex: xi, yAxisIndex: yi, silent: true, clip: false };
    series.push({ ...base, type: "scatter", z: 4, symbolSize: 9, data: (isD ? dPoints : ePoints)[i],
      itemStyle: { color: divColors[i], borderColor: "#1a1a1a", borderWidth: 0.9 } });
    if (isD) series.push({ ...base, type: "line", z: 5, showSymbol: false, data: [[0,0],[40,0]], lineStyle: { color: "#f00000", width: 2.5 } });
    const name = cSeriesNames[i];
    txt(left + 50, y0 - (isD ? 53 : 53.7), name, 15, dejavu, { fill: "#222" });
    const rho = isD ? dRho[i] : eRho[i], p = isD ? dP[i] : eP[i];
    const tx = left + (isD ? 46.3 : 53);
    txt(tx, y0 - (isD ? 33 : 40.4), "rho = " + rho, 10, dejavu, { align: "left", fill: "#333" });
    txt(tx, y0 - (isD ? 18.7 : 8.7), "p = " + p, 10, dejavu, { align: "left", fill: "#333" });
  };
  divLabels.forEach((_, i) => { small("d", i); small("e", i); });
  txt(650, 523, "Module global efficiency", 18, sans, { rotation: Math.PI / 2 });
  txt(940, 513, "Mean spatial separation (mm)", 17.8, sans, { rotation: Math.PI / 2 });
  txt(802, 808, "Total number of neurons", 17.8, sans);
  txt(1099.5, 809, "Total number of neurons", 17.8, sans);

  const legendBase = { orient: "vertical", selectedMode: false, backgroundColor: "#fff", borderColor: "#888", borderWidth: 1, z: 20 };
  return {
    animation: false,
    backgroundColor: "#fff",
    grid, xAxis, yAxis, series,
    legend: [
      { ...legendBase, data: cSeriesNames, left: 536.7, top: 282.7, padding: [3, 4, 3, 5], itemWidth: 19, itemHeight: 8, itemGap: 0,
        textStyle: { fontSize: 12, fontFamily: dejavu, color: "#333", lineHeight: 14 } },
      { ...legendBase, data: ["Actual data", "Null model"], left: 441, top: 754.3, padding: [3, 6, 3, 4], itemWidth: 28, itemHeight: 9, itemGap: 3,
        textStyle: { fontSize: 12.5, fontFamily: dejavu, color: "#222" } },
    ],
    graphic: { elements: g },
  };
}

export default function App() {
  const ref = useRef<HTMLDivElement>(null);
  useEffect(() => {
    const chart = echarts.init(ref.current!, undefined, { renderer: "svg" });
    chart.setOption(buildOption() as any);
    return () => chart.dispose();
  }, []);
  return <div ref={ref} style={{ position: "absolute", left: 0, top: 0, width: 1237, height: 857 }} />;
}
